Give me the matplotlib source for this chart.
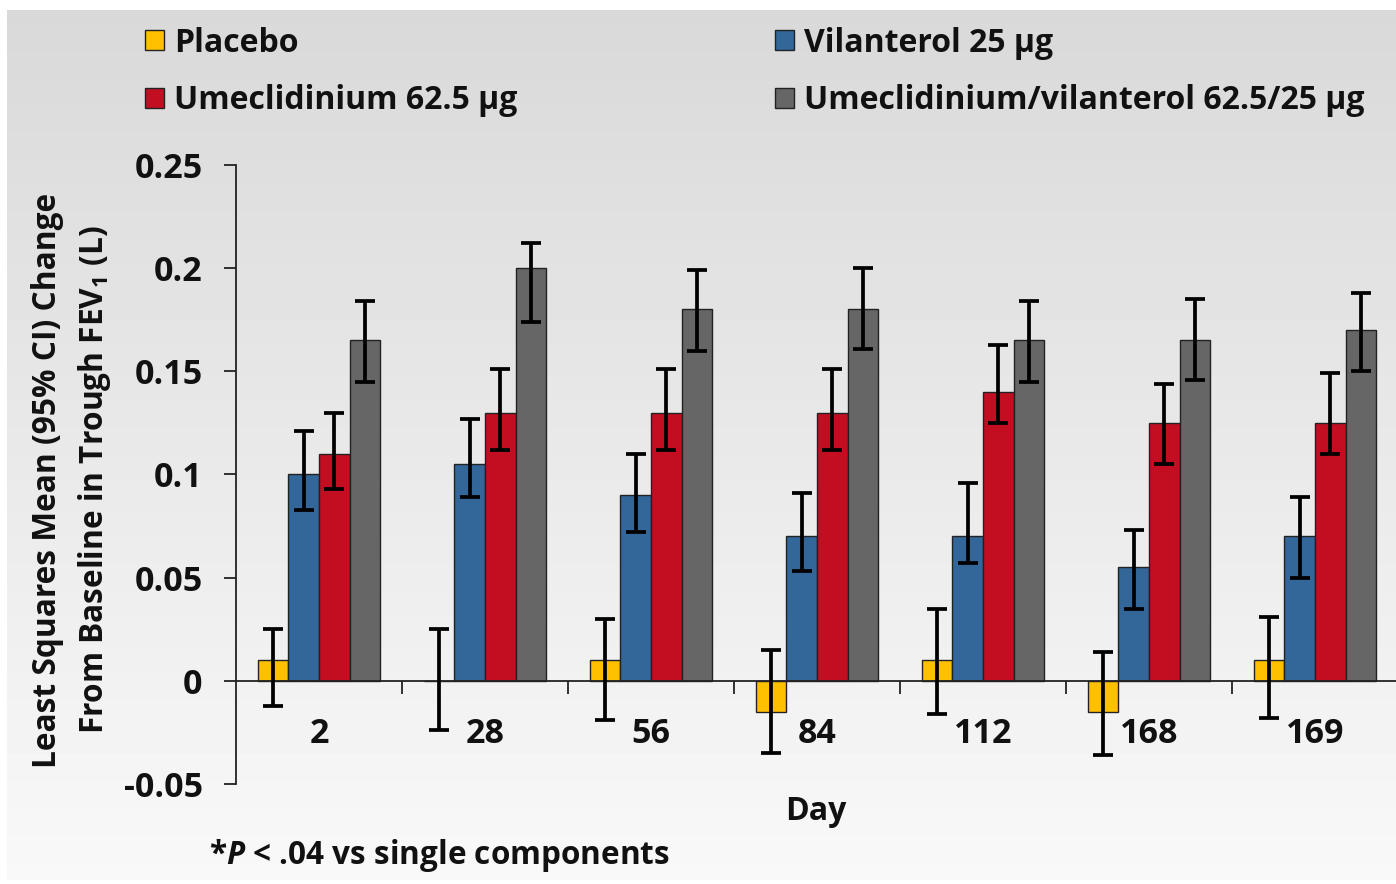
import numpy as np
import matplotlib
matplotlib.use("Agg")
import matplotlib.pyplot as plt
from matplotlib.patches import Patch

FONT = 'Open Sans'
plt.rcParams['font.family'] = [FONT, 'DejaVu Sans']
plt.rcParams['font.weight'] = 'bold'
plt.rcParams['mathtext.fontset'] = 'custom'
plt.rcParams['mathtext.rm'] = FONT + ':bold'
plt.rcParams['mathtext.it'] = FONT + ':bold:italic'
plt.rcParams['mathtext.bf'] = FONT + ':bold'

days = ["2", "28", "56", "84", "112", "168", "169"]
series = ["Placebo", "Vilanterol 25 µg", "Umeclidinium 62.5 µg",
          "Umeclidinium/vilanterol 62.5/25 µg"]
colors = ["#FFC000", "#336699", "#C30E22", "#666666"]

placebo = [0.01, 0.0, 0.01, -0.015, 0.01, -0.015, 0.01]
placebo_lo = [-0.012, -0.024, -0.019, -0.035, -0.016, -0.036, -0.018]
placebo_hi = [0.025, 0.025, 0.030, 0.015, 0.035, 0.014, 0.031]

vilanterol = [0.10, 0.105, 0.09, 0.07, 0.07, 0.055, 0.07]
vilanterol_lo = [0.083, 0.089, 0.072, 0.053, 0.057, 0.035, 0.050]
vilanterol_hi = [0.121, 0.127, 0.110, 0.091, 0.096, 0.073, 0.089]

umec = [0.11, 0.13, 0.13, 0.13, 0.14, 0.125, 0.125]
umec_lo = [0.093, 0.112, 0.112, 0.112, 0.125, 0.105, 0.110]
umec_hi = [0.130, 0.151, 0.151, 0.151, 0.163, 0.144, 0.149]

umec_vi = [0.165, 0.20, 0.18, 0.18, 0.165, 0.165, 0.17]
umec_vi_lo = [0.145, 0.174, 0.160, 0.161, 0.145, 0.146, 0.150]
umec_vi_hi = [0.184, 0.212, 0.199, 0.200, 0.184, 0.185, 0.188]

values = [placebo, vilanterol, umec, umec_vi]
lows = [placebo_lo, vilanterol_lo, umec_lo, umec_vi_lo]
highs = [placebo_hi, vilanterol_hi, umec_hi, umec_vi_hi]

W, H = 1396, 884
fig = plt.figure(figsize=(W / 100, H / 100), dpi=100)
fig.patch.set_facecolor("white")

# gradient background
bg = fig.add_axes([7 / W, 1 - 880 / H, 1 - 7 / W, 870 / H], zorder=-10)
grad = np.linspace(0.85, 0.975, 256).reshape(-1, 1)
bg.imshow(grad, aspect="auto", cmap="gray", vmin=0, vmax=1,
          extent=[0, 1, 1, 0])
bg.set_axis_off()

left, right = 236, 1396
ytop, ybot = 165, 784
ax = fig.add_axes([left / W, 1 - ybot / H, (right - left) / W, (ybot - ytop) / H])
ax.patch.set_alpha(0)

x = np.arange(len(days))
w = 0.184
for i, (vals, lo, hi, c) in enumerate(zip(values, lows, highs, colors)):
    pos = x + (i - 1.5) * w
    vals = np.array(vals)
    err = np.array([vals - np.array(lo), np.array(hi) - vals])
    ax.bar(pos, vals, w, color=c, edgecolor="#222222", linewidth=1.0,
           label=series[i], zorder=2)
    ax.errorbar(pos, vals, yerr=err, fmt="none", ecolor="black",
                elinewidth=2.7, capsize=7, capthick=2.7, zorder=3)

ax.set_xlim(-0.5, -0.5 + (right - left) / 166.0)
ax.set_ylim(-0.05, 0.25)
ax.set_yticks([-0.05, 0, 0.05, 0.1, 0.15, 0.2, 0.25])
ax.set_yticklabels(["-0.05", "0", "0.05", "0.1", "0.15", "0.2", "0.25"])
ax.spines["top"].set_visible(False)
ax.spines["right"].set_visible(False)
ax.spines["bottom"].set_position(("data", 0))
ax.spines["left"].set_linewidth(1.3)
ax.spines["bottom"].set_linewidth(1.3)
ax.spines["left"].set_color("#222222")
ax.spines["bottom"].set_color("#222222")
ax.tick_params(axis="y", labelsize=24.5, length=9, width=1.3, pad=15, colors="#222222")
ax.set_xticks(x)
ax.set_xticklabels(days)
ax.tick_params(axis="x", which="major", length=0, labelsize=24.5, pad=26)
ax.set_xticks(np.arange(0.5, len(days) - 0.5, 1.0), minor=True)
ax.tick_params(axis="x", which="minor", length=9, width=1.3, direction="out",
               colors="#222222")
for lab in ax.get_xticklabels() + ax.get_yticklabels():
    lab.set_fontweight("bold")
    lab.set_color("#111111")

fig.text(72 / W, 1 - 480 / H,
         "Least Squares Mean (95% CI) Change\nFrom Baseline in Trough FEV$_1$ (L)",
         rotation=90, ha="center", va="center", fontsize=22.8, linespacing=1.45,
         multialignment="center", color="#111111")
fig.text(816 / W, 1 - 812 / H, "Day", ha="center", va="center", fontsize=23,
         color="#111111")
fig.text(209 / W, 1 - 855 / H, "*$P$ < .04 vs single components", ha="left",
         va="center", fontsize=22.7, color="#111111")

handles = [Patch(facecolor=c, edgecolor="#222222", linewidth=1.0) for c in colors]
common = dict(loc="center left", frameon=False, fontsize=23, handlelength=0.58,
              handleheight=0.58, handletextpad=0.33, labelspacing=0.78,
              borderaxespad=0, borderpad=0)
leg1 = fig.legend([handles[0], handles[2]], [series[0], series[2]],
                  bbox_to_anchor=(145 / W, 1 - 72 / H), **common)
leg2 = fig.legend([handles[1], handles[3]], [series[1], series[3]],
                  bbox_to_anchor=(775 / W, 1 - 72 / H), **common)
for leg in (leg1, leg2):
    for t in leg.get_texts():
        t.set_color("#111111")

fig.savefig("out.png", dpi=100)
